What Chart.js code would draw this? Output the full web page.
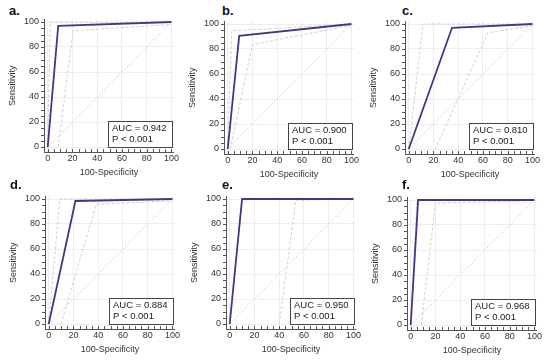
<!DOCTYPE html>
<html>
<head>
<meta charset="utf-8">
<script src="https://cdn.jsdelivr.net/npm/chart.js@4.4.1/dist/chart.umd.min.js"></script>
<style>
  body { margin: 0; background: #fff; }
  #wrap { position: relative; width: 550px; height: 361px; overflow: hidden; }
  #wrap canvas { position: absolute; }
  .lbl { position: absolute; font: bold 13px "Liberation Sans", Arial, sans-serif; color: #111; line-height: 13px; }
</style>
</head>
<body>
<div id="wrap"></div>
<script>
// panel texts
const panelLabels = ['a.', 'b.', 'c.', 'd.', 'e.', 'f.'];
const aucValues = ['0.942', '0.900', '0.810', '0.884', '0.950', '0.968'];
const pValues = ['< 0.001', '< 0.001', '< 0.001', '< 0.001', '< 0.001', '< 0.001'];

// ROC curve for each panel (100-specificity, sensitivity)
const rocX = [[0, 8.5, 100], [0, 9.3, 100], [0, 35, 100], [0, 21.6, 100], [0, 10, 100], [0, 6, 100]];
const rocY = [[0, 97, 100], [0, 90.5, 100], [0, 97, 100], [0, 98.4, 100], [0, 100, 100], [0, 100, 100]];

// confidence bounds
const upperX = [[0, 2, 100], [0, 3.2, 100], [0, 11.5, 100], [0, 9, 100], [0, 10, 100], [0, 5, 100]];
const upperY = [[0, 100, 100], [0, 94.5, 100], [0, 100, 100], [0, 100, 100], [0, 100, 100], [0, 100, 100]];
const lowerX = [[8.5, 20.5, 100], [2, 20, 100], [21.5, 64, 100], [10, 38.5, 100], [40, 53.5, 100], [8.5, 20, 100]];
const lowerY = [[0, 93, 98], [0, 83.5, 99], [0, 93, 98.5], [0, 95.8, 98.5], [0, 99, 100], [0, 97.5, 99.5]];

// reference line
const diagX = [0, 100];
const diagY = [0, 100];

const tickValues = [0, 20, 40, 60, 80, 100];

const canvasLeft = [0, 180, 361, 1, 182, 363];
const canvasTop = [0, 2, 2, 177, 177, 178];
const labelPos = [[9, 4], [222, 4], [402, 4], [10, 178], [222, 178], [402, 178]];

const FONT = '"Liberation Sans", Arial, sans-serif';

function pts(xs, ys) {
  return xs.map((x, i) => ({ x: x, y: ys[i] }));
}

// small tick marks every 5 units
const minorTicks = {
  id: 'minorTicks',
  afterDraw(chart) {
    const ctx = chart.ctx;
    const xs = chart.scales.x, ys = chart.scales.y;
    const a = chart.chartArea;
    ctx.save();
    ctx.strokeStyle = '#555';
    ctx.lineWidth = 1;
    ctx.beginPath();
    for (let v = 0; v <= 100; v += 5) {
      const px = Math.round(xs.getPixelForValue(v)) + 0.5;
      ctx.moveTo(px, a.bottom);
      ctx.lineTo(px, a.bottom - 3);
      const py = Math.round(ys.getPixelForValue(v)) + 0.5;
      ctx.moveTo(a.left, py);
      ctx.lineTo(a.left - 3, py);
    }
    ctx.stroke();
    ctx.restore();
  }
};

// AUC box in lower right corner
const aucBox = {
  id: 'aucBox',
  afterDatasetsDraw(chart, args, opts) {
    const ctx = chart.ctx;
    const a = chart.chartArea;
    const w = 64, h = 26;
    const x = Math.round(a.right - 1.5 - w) + 0.5;
    const y = Math.round(a.bottom - 5 - h) + 0.5;
    ctx.save();
    ctx.fillStyle = '#fff';
    ctx.fillRect(x, y, w, h);
    ctx.strokeStyle = '#444';
    ctx.lineWidth = 1;
    ctx.strokeRect(x, y, w, h);
    ctx.fillStyle = '#1a1a1a';
    ctx.font = '9.5px ' + FONT;
    ctx.textBaseline = 'middle';
    ctx.fillText('AUC = ' + opts.auc, x + 3.5, y + 7);
    ctx.fillText('P ' + opts.p, x + 3.5, y + 17.5);
    ctx.restore();
  }
};

const wrap = document.getElementById('wrap');

for (let i = 0; i < 6; i++) {
  const lbl = document.createElement('div');
  lbl.className = 'lbl';
  lbl.textContent = panelLabels[i];
  lbl.style.left = labelPos[i][0] + 'px';
  lbl.style.top = labelPos[i][1] + 'px';
  wrap.appendChild(lbl);

  const cv = document.createElement('canvas');
  cv.width = 180;
  cv.height = 178;
  cv.style.left = canvasLeft[i] + 'px';
  cv.style.top = canvasTop[i] + 'px';
  wrap.appendChild(cv);

  const axisCommon = {
    type: 'linear',
    afterBuildTicks: s => { s.ticks = tickValues.map(v => ({ value: v })); },
    grid: { color: '#ededed', lineWidth: 1, drawTicks: false },
    border: { display: true, color: '#555', width: 1 },
    ticks: { color: '#333', font: { family: FONT, size: 9 } },
    title: { display: true, color: '#333', font: { family: FONT, size: 9 } }
  };

  new Chart(cv.getContext('2d'), {
    type: 'scatter',
    data: {
      datasets: [
        { data: pts(rocX[i], rocY[i]), borderColor: '#3a3a88', borderWidth: 1.8 },
        { data: pts(upperX[i], upperY[i]), borderColor: '#d0d0d0', borderWidth: 1, borderDash: [3, 2] },
        { data: pts(lowerX[i], lowerY[i]), borderColor: '#d0d0d0', borderWidth: 1, borderDash: [3, 2] },
        { data: pts(diagX, diagY), borderColor: '#c8c8c8', borderWidth: 1, borderDash: [1.5, 2] }
      ].map(d => Object.assign(d, { showLine: true, pointRadius: 0, fill: false }))
    },
    options: {
      responsive: false,
      animation: false,
      devicePixelRatio: 1,
      layout: { padding: { top: 19.5, right: 4.5, left: 0, bottom: 0 } },
      plugins: {
        legend: { display: false },
        tooltip: { enabled: false },
        aucBox: { auc: aucValues[i], p: pValues[i] }
      },
      scales: {
        x: Object.assign({}, axisCommon, {
          min: -3, max: 102,
          afterFit: s => { s.height = 26; },
          ticks: Object.assign({}, axisCommon.ticks, { padding: 1, maxRotation: 0 }),
          title: Object.assign({}, axisCommon.title, { text: '100-Specificity', padding: { top: 0, bottom: 0 } })
        }),
        y: Object.assign({}, axisCommon, {
          min: -4, max: 102,
          afterFit: s => { s.width = 44; },
          ticks: Object.assign({}, axisCommon.ticks, { padding: 5 }),
          title: Object.assign({}, axisCommon.title, { text: 'Sensitivity', padding: { top: 7, bottom: 0 } })
        })
      }
    },
    plugins: [minorTicks, aucBox]
  });
}
</script>
</body>
</html>
